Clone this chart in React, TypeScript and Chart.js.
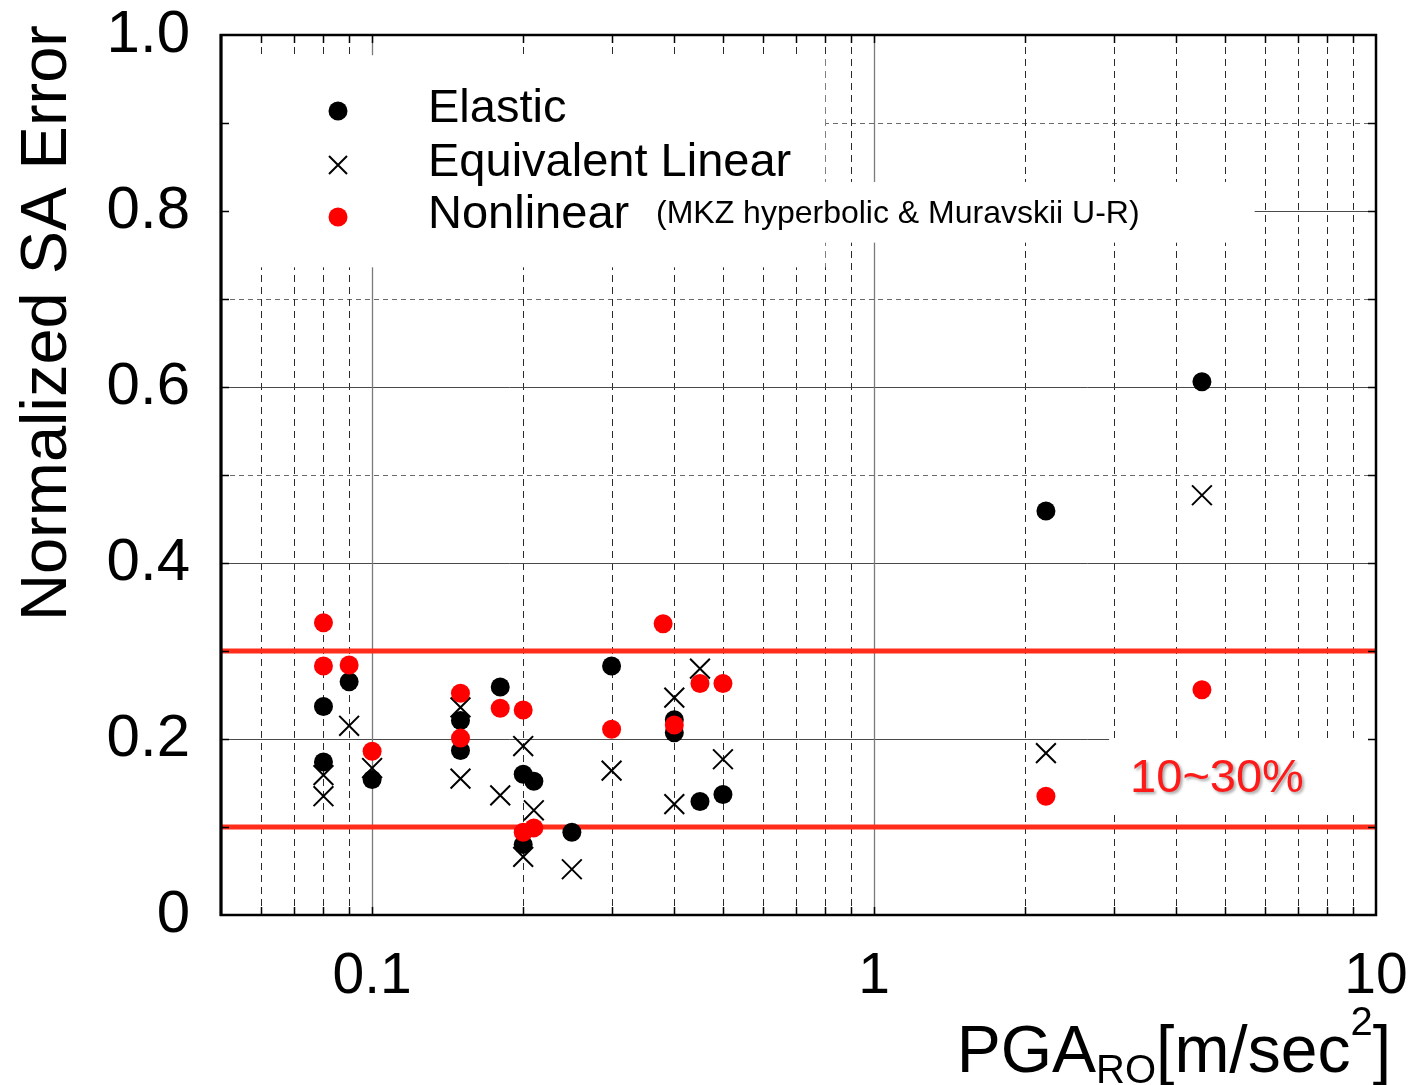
import React, { useEffect, useRef } from "react";
import { Chart, registerables } from "chart.js";

Chart.register(...registerables);

// ---------- data ----------
const elasticX = [0.08, 0.08, 0.09, 0.1, 0.15, 0.15, 0.18, 0.2, 0.2, 0.21, 0.25, 0.3, 0.4, 0.4, 0.45, 0.5, 2.2, 4.5];
const elasticY = [0.237, 0.174, 0.265, 0.154, 0.221, 0.187, 0.259, 0.16, 0.08, 0.152, 0.094, 0.283, 0.222, 0.207, 0.129, 0.137, 0.459, 0.606];

const eqLinX = [0.08, 0.08, 0.09, 0.1, 0.15, 0.15, 0.18, 0.2, 0.2, 0.21, 0.25, 0.3, 0.4, 0.4, 0.45, 0.5, 2.2, 4.5];
const eqLinY = [0.159, 0.135, 0.215, 0.167, 0.236, 0.155, 0.136, 0.192, 0.066, 0.119, 0.052, 0.164, 0.247, 0.126, 0.28, 0.177, 0.184, 0.477];

const nonlinX = [0.08, 0.08, 0.09, 0.1, 0.15, 0.15, 0.18, 0.2, 0.2, 0.21, 0.3, 0.38, 0.4, 0.45, 0.5, 2.2, 4.5];
const nonlinY = [0.332, 0.283, 0.284, 0.186, 0.252, 0.201, 0.235, 0.233, 0.094, 0.099, 0.211, 0.331, 0.216, 0.263, 0.263, 0.135, 0.256];

const bandLimits = [0.1, 0.3];
const xRange = [0.05, 10];
const yRange = [0, 1];

const xTickValues = [0.1, 1, 10];
const xTickLabels = ["0.1", "1", "10"];
const yTickValues = [0, 0.2, 0.4, 0.6, 0.8, 1.0];
const yTickLabels = ["0", "0.2", "0.4", "0.6", "0.8", "1.0"];

const xMinorGrid = [0.06, 0.07, 0.08, 0.09, 0.2, 0.3, 0.4, 0.5, 0.6, 0.7, 0.8, 0.9, 2, 3, 4, 5, 6, 7, 8, 9];
const xMajorGrid = [0.1, 1];
const yMinorGrid = [0.1, 0.3, 0.5, 0.7, 0.9];
const yMajorGrid = [0.2, 0.4, 0.6, 0.8];

const seriesNames = ["Elastic", "Equivalent Linear", "Nonlinear"];
const nonlinNote = "(MKZ hyperbolic & Muravskii U-R)";
const bandLabel = "10~30%";
const yTitle = "Normalized SA Error";

// white boxes (data space) that hide the grid behind legend & label
const blankBoxes = [
  { x0: 0.05, x1: 0.8, y0: 0.736, y1: 0.977 },
  { x0: 0.05, x1: 5.73, y0: 0.764, y1: 0.833 },
  { x0: 2.94, x1: 9.85, y0: 0.114, y1: 0.201 },
];

const FONT = "'Liberation Sans', Arial, Helvetica, sans-serif";

const pts = (xs: number[], ys: number[]) => xs.map((x, i) => ({ x, y: ys[i] }));

const decorPlugin = {
  id: "decor",
  beforeDatasetsDraw(chart: any) {
    const { ctx, chartArea: a, scales } = chart;
    const X = scales.x, Y = scales.y;
    ctx.save();
    ctx.beginPath();
    ctx.rect(a.left, a.top, a.right - a.left, a.bottom - a.top);
    ctx.clip();
    // dashed horizontals
    ctx.strokeStyle = "#6a6a6a";
    ctx.lineWidth = 1;
    ctx.setLineDash([5, 4]);
    for (const v of yMinorGrid) {
      const py = Math.round(Y.getPixelForValue(v)) + 0.5;
      ctx.beginPath(); ctx.moveTo(a.left, py); ctx.lineTo(a.right, py); ctx.stroke();
    }
    // dashed verticals
    ctx.strokeStyle = "#2a2a2a";
    ctx.setLineDash([7, 5]);
    for (const v of xMinorGrid) {
      const px = Math.round(X.getPixelForValue(v)) + 0.5;
      ctx.beginPath(); ctx.moveTo(px, a.top); ctx.lineTo(px, a.bottom); ctx.stroke();
    }
    ctx.setLineDash([]);
    // solid horizontals
    ctx.strokeStyle = "#4a4a4a";
    for (const v of yMajorGrid) {
      const py = Math.round(Y.getPixelForValue(v)) + 0.5;
      ctx.beginPath(); ctx.moveTo(a.left, py); ctx.lineTo(a.right, py); ctx.stroke();
    }
    // solid verticals
    ctx.strokeStyle = "#7a7a7a";
    ctx.lineWidth = 1.3;
    for (const v of xMajorGrid) {
      const px = Math.round(X.getPixelForValue(v)) + 0.5;
      ctx.beginPath(); ctx.moveTo(px, a.top); ctx.lineTo(px, a.bottom); ctx.stroke();
    }
    // blank boxes
    ctx.fillStyle = "#ffffff";
    for (const b of blankBoxes) {
      const x0 = X.getPixelForValue(b.x0), x1 = X.getPixelForValue(b.x1);
      const y0 = Y.getPixelForValue(b.y0), y1 = Y.getPixelForValue(b.y1);
      ctx.fillRect(x0, y1, x1 - x0, y0 - y1);
    }
    ctx.restore();
  },
  afterDatasetsDraw(chart: any) {
    const { ctx, chartArea: a, scales } = chart;
    const X = scales.x, Y = scales.y;
    ctx.save();
    // inside tick marks
    ctx.strokeStyle = "#000";
    ctx.lineWidth = 1.5;
    const allX = [...xMinorGrid, ...xMajorGrid];
    for (const v of allX) {
      const px = Math.round(X.getPixelForValue(v)) + 0.5;
      ctx.beginPath(); ctx.moveTo(px, a.bottom); ctx.lineTo(px, a.bottom - 8); ctx.stroke();
      ctx.beginPath(); ctx.moveTo(px, a.top); ctx.lineTo(px, a.top + 8); ctx.stroke();
    }
    const allY = [...yMinorGrid, ...yMajorGrid];
    for (const v of allY) {
      const py = Math.round(Y.getPixelForValue(v)) + 0.5;
      ctx.beginPath(); ctx.moveTo(a.left, py); ctx.lineTo(a.left + 8, py); ctx.stroke();
      ctx.beginPath(); ctx.moveTo(a.right, py); ctx.lineTo(a.right - 8, py); ctx.stroke();
    }
    // frame
    ctx.lineWidth = 2.5;
    ctx.strokeStyle = "#000";
    ctx.strokeRect(a.left, a.top, a.right - a.left, a.bottom - a.top);
    ctx.lineWidth = 3;
    ctx.beginPath(); ctx.moveTo(a.left, a.top - 1); ctx.lineTo(a.left, a.bottom + 1); ctx.stroke();

    // legend
    const mx = 338;
    const rows = [111, 165, 217];
    ctx.fillStyle = "#000";
    ctx.beginPath(); ctx.arc(mx, rows[0], 9.5, 0, Math.PI * 2); ctx.fill();
    ctx.lineWidth = 2;
    ctx.beginPath();
    ctx.moveTo(mx - 9, rows[1] - 9); ctx.lineTo(mx + 9, rows[1] + 9);
    ctx.moveTo(mx + 9, rows[1] - 9); ctx.lineTo(mx - 9, rows[1] + 9);
    ctx.stroke();
    ctx.fillStyle = "#ff0000";
    ctx.beginPath(); ctx.arc(mx, rows[2], 9.5, 0, Math.PI * 2); ctx.fill();

    ctx.fillStyle = "#000";
    ctx.textBaseline = "middle";
    ctx.textAlign = "left";
    ctx.font = `47px ${FONT}`;
    ctx.fillText(seriesNames[0], 428, 109);
    ctx.fillText(seriesNames[1], 428, 163);
    ctx.fillText(seriesNames[2], 428, 215);
    ctx.font = `32px ${FONT}`;
    ctx.fillText(nonlinNote, 656, 214);

    // band label
    ctx.save();
    ctx.shadowColor = "rgba(0,0,0,0.35)";
    ctx.shadowBlur = 3;
    ctx.shadowOffsetX = 2;
    ctx.shadowOffsetY = 2;
    ctx.fillStyle = "#ff1a1a";
    ctx.font = `47px ${FONT}`;
    ctx.textAlign = "center";
    ctx.fillText(bandLabel, 1217, 779);
    ctx.restore();

    // y title
    ctx.save();
    ctx.fillStyle = "#000";
    ctx.font = `65px ${FONT}`;
    ctx.textAlign = "left";
    ctx.textBaseline = "alphabetic";
    ctx.translate(66, 621);
    ctx.rotate(-Math.PI / 2);
    ctx.fillText(yTitle, 0, 0);
    ctx.restore();

    // x title: PGA_RO[m/sec^2]
    const big = `66px ${FONT}`;
    const small = `40px ${FONT}`;
    const parts = [
      { t: "PGA", f: big, dy: 0 },
      { t: "RO", f: small, dy: 11 },
      { t: "[m/sec", f: big, dy: 0 },
      { t: "2", f: small, dy: -37 },
      { t: "]", f: big, dy: 0 },
    ];
    let total = 0;
    const widths = parts.map((p) => { ctx.font = p.f; const w = ctx.measureText(p.t).width; total += w; return w; });
    let cx = 1391 - total;
    const base = 1072;
    ctx.fillStyle = "#000";
    ctx.textAlign = "left";
    ctx.textBaseline = "alphabetic";
    parts.forEach((p, i) => { ctx.font = p.f; ctx.fillText(p.t, cx, base + p.dy); cx += widths[i]; });

    ctx.restore();
  },
};

export default function App() {
  const ref = useRef<HTMLCanvasElement | null>(null);
  useEffect(() => {
    document.body.style.margin = "0";
    const canvas = ref.current!;
    const chart = new Chart(canvas, {
      type: "scatter",
      data: {
        datasets: [
          {
            label: seriesNames[2],
            data: pts(nonlinX, nonlinY),
            pointStyle: "circle",
            pointRadius: 9.5,
            pointBackgroundColor: "#ff0000",
            pointBorderWidth: 0,
            borderWidth: 0,
            order: 1,
          },
          {
            label: seriesNames[1],
            data: pts(eqLinX, eqLinY),
            pointStyle: "crossRot",
            pointRadius: 14,
            pointBorderColor: "#000",
            pointBorderWidth: 2,
            order: 2,
          },
          {
            label: seriesNames[0],
            data: pts(elasticX, elasticY),
            pointStyle: "circle",
            pointRadius: 9.5,
            pointBackgroundColor: "#000",
            pointBorderWidth: 0,
            borderWidth: 0,
            order: 3,
          },
          ...bandLimits.map((v) => ({
            label: "band " + v,
            data: [{ x: xRange[0], y: v }, { x: xRange[1], y: v }],
            showLine: true,
            pointRadius: 0,
            borderColor: "#ff2d1a",
            borderWidth: 5,
            order: 10,
          })),
        ],
      } as any,
      options: {
        animation: false,
        responsive: false,
        layout: { padding: { left: 0, top: 35, right: 42, bottom: 0 } },
        plugins: { legend: { display: false }, tooltip: { enabled: false } },
        scales: {
          x: {
            type: "logarithmic",
            min: xRange[0],
            max: xRange[1],
            grid: { display: false, drawTicks: false },
            border: { display: false },
            afterBuildTicks: (s: any) => { s.ticks = xTickValues.map((v) => ({ value: v })); },
            afterFit: (s: any) => { s.height = 170; s.paddingLeft = 0; s.paddingRight = 0; },
            ticks: {
              autoSkip: false,
              maxRotation: 0,
              padding: 28,
              color: "#000",
              font: { family: FONT, size: 57 },
              callback: (v: any) => {
                const i = xTickValues.findIndex((t) => Math.abs(t - Number(v)) < 1e-9);
                return i >= 0 ? xTickLabels[i] : "";
              },
            },
          },
          y: {
            type: "linear",
            min: yRange[0],
            max: yRange[1],
            grid: { display: false, drawTicks: false },
            border: { display: false },
            afterBuildTicks: (s: any) => { s.ticks = yTickValues.map((v) => ({ value: v })); },
            afterFit: (s: any) => { s.width = 221; s.paddingTop = 0; s.paddingBottom = 0; },
            ticks: {
              padding: 31,
              color: "#000",
              font: { family: FONT, size: 60 },
              callback: (v: any) => {
                const i = yTickValues.findIndex((t) => Math.abs(t - Number(v)) < 1e-9);
                return i >= 0 ? yTickLabels[i] : "";
              },
            },
          },
        },
      },
      plugins: [decorPlugin],
    } as any);
    return () => chart.destroy();
  }, []);
  return (
    <div style={{ width: 1418, height: 1085, background: "#fff" }}>
      <canvas ref={ref} width={1418} height={1085} style={{ display: "block" }} />
    </div>
  );
}
